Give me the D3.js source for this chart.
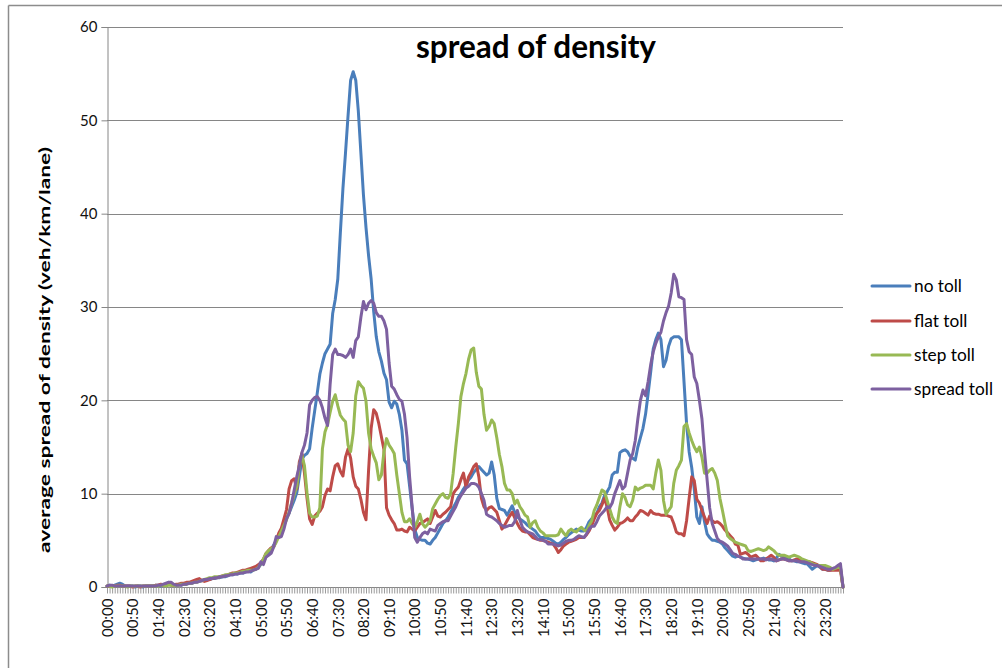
<!DOCTYPE html>
<html><head><meta charset="utf-8">
<script src="https://cdn.jsdelivr.net/npm/d3@7"></script>
<style>
html,body{margin:0;padding:0;background:#fff;}
svg{display:block;}
text{font-family:Lato,"Open Sans",sans-serif;}
</style></head>
<body>
<svg id="chart" width="1002" height="668"></svg>
<script>
// 5-minute categories 00:00 .. 23:55
const categories = d3.range(288).map(i => String(Math.floor(i*5/60)).padStart(2,"0") + ":" + String(i*5%60).padStart(2,"0"));
const tickLabels = ["00:00","00:50","01:40","02:30","03:20","04:10","05:00","05:50","06:40","07:30","08:20","09:10","10:00","10:50","11:40","12:30","13:20","14:10","15:00","15:50","16:40","17:30","18:20","19:10","20:00","20:50","21:40","22:30","23:20"];
const yTicks = [0,10,20,30,40,50,60];
const seriesNames = ["no toll","flat toll","step toll","spread toll"];
const seriesColors = ["#4a7ebb","#be4b48","#98b954","#7d60a0"];

const noToll = [
0.1,0.2,0.1,0.2,0.3,0.4,0.3,0.1,0.1,0.1,
0.1,0.0,0.1,0.1,0.0,0.1,0.1,0.1,0.1,0.2,
0.2,0.1,0.2,0.3,0.5,0.4,0.2,0.2,0.3,0.2,
0.3,0.3,0.4,0.4,0.5,0.6,0.6,0.7,0.7,0.8,
0.8,0.9,0.9,1.0,1.0,1.1,1.1,1.2,1.3,1.3,
1.4,1.4,1.5,1.5,1.6,1.7,1.6,1.8,1.9,2.1,
2.4,2.8,3.2,3.6,4.0,4.5,5.0,5.5,6.2,6.8,
7.4,7.9,8.6,9.3,10.1,11.8,13.7,14.1,14.3,14.8,
17.0,18.9,20.8,22.8,24.0,25.0,25.5,26.0,29.3,30.8,
33.0,38.0,42.7,46.5,50.5,54.3,55.2,54.3,51.0,46.5,
42.0,38.5,35.5,33.0,29.5,26.8,25.2,24.2,22.9,22.2,
19.8,19.2,19.9,19.6,18.5,16.8,13.6,13.2,10.8,8.4,
6.2,5.3,5.1,5.0,5.0,4.7,4.6,5.0,5.3,5.8,
6.3,6.8,7.1,7.5,8.0,8.5,9.0,9.6,10.0,10.5,
10.9,11.5,11.8,12.3,12.6,12.9,12.6,12.3,12.0,12.2,
13.4,12.0,9.5,8.4,8.3,8.2,7.7,8.2,8.7,8.0,
7.5,7.3,7.1,6.9,6.6,6.4,6.2,6.0,5.6,5.3,
5.3,5.3,5.2,5.1,4.9,4.7,4.6,4.8,5.1,5.3,
5.6,5.8,6.0,6.2,6.1,6.0,6.0,6.4,7.0,7.3,
7.6,7.9,8.6,9.0,9.8,10.2,10.7,12.0,12.3,12.3,
14.4,14.6,14.7,14.5,14.0,13.8,13.6,15.0,16.0,17.0,
18.5,20.7,23.0,25.5,26.5,27.2,26.5,23.6,24.3,25.8,
26.6,26.8,26.8,26.8,26.5,22.0,17.5,14.5,12.8,10.5,
7.5,6.8,8.6,7.0,5.7,5.3,5.0,5.0,4.9,4.8,
4.6,4.2,3.9,3.6,3.3,3.2,3.3,3.2,3.1,3.0,
3.0,2.9,2.8,2.9,3.0,3.0,3.1,3.0,2.9,2.9,
2.8,3.1,3.5,3.3,3.2,3.2,3.0,2.8,2.8,2.7,
2.7,2.6,2.5,2.5,2.2,1.9,2.1,2.3,2.1,1.9,
1.9,1.8,1.8,1.9,1.9,1.9,2.1,0.0];

const flatToll = [
0.1,0.1,0.1,0.1,0.2,0.2,0.1,0.1,0.1,0.1,
0.0,0.1,0.1,0.0,0.1,0.1,0.1,0.1,0.1,0.2,
0.2,0.3,0.2,0.3,0.3,0.2,0.2,0.3,0.3,0.4,
0.4,0.5,0.5,0.6,0.7,0.8,0.9,0.7,0.6,0.7,
0.8,0.9,1.0,1.0,1.1,1.2,1.2,1.3,1.4,1.5,
1.5,1.6,1.7,1.8,1.8,1.9,2.0,2.1,2.2,2.4,
2.6,3.0,3.6,3.9,4.2,4.3,5.0,5.8,6.3,7.3,
8.3,10.5,11.4,11.6,10.5,13.4,14.3,12.2,9.5,7.3,
6.7,7.6,7.9,8.1,8.6,9.8,10.5,10.3,11.8,13.0,
13.2,12.4,11.9,13.9,14.8,13.8,11.8,10.8,10.5,9.4,
8.0,7.2,12.5,17.0,19.0,18.6,17.5,16.1,14.7,8.5,
7.7,7.2,6.8,6.1,6.1,6.2,6.0,5.9,6.4,6.2,
6.0,6.4,6.8,6.9,7.1,7.3,6.8,7.5,8.2,7.6,
7.5,7.8,8.0,8.3,8.6,10.0,10.4,10.7,11.5,12.2,
10.7,11.8,12.3,12.9,13.2,11.8,9.5,8.6,8.2,8.5,
8.6,8.3,8.0,7.1,6.2,6.6,7.1,7.6,8.0,7.4,
6.8,6.3,6.0,5.9,5.9,5.6,5.3,5.2,5.1,5.0,
5.0,4.9,4.8,4.7,4.6,4.2,3.7,4.0,4.4,4.6,
4.8,4.9,5.0,5.1,5.3,5.3,5.3,5.6,6.0,6.6,
7.3,7.9,8.2,8.8,9.5,8.6,7.2,6.6,6.1,6.4,
6.8,6.9,7.1,7.4,7.1,7.1,7.5,7.8,8.2,8.1,
7.9,7.7,8.2,7.9,7.8,7.8,7.7,7.7,7.7,7.6,
7.5,6.8,5.9,5.7,5.7,5.5,7.1,9.5,11.8,11.4,
9.4,9.0,8.2,7.5,6.8,7.6,7.1,6.9,7.0,6.8,
6.5,6.1,5.8,5.5,5.2,4.6,4.5,3.5,3.6,3.7,
3.5,3.2,3.3,3.4,3.1,2.8,2.8,3.0,3.2,3.4,
3.2,2.8,2.9,3.0,3.0,2.9,2.8,2.8,2.9,3.0,
2.9,2.8,2.8,2.7,2.7,2.6,2.5,2.4,2.2,1.9,
1.9,1.8,1.8,1.8,1.8,1.8,1.8,0.0];

const stepToll = [
0.1,0.1,0.0,0.1,0.1,0.1,0.1,0.1,0.0,0.1,
0.1,0.1,0.1,0.1,0.1,0.1,0.1,0.1,0.1,0.1,
0.1,0.2,0.2,0.1,0.2,0.2,0.2,0.2,0.2,0.3,
0.3,0.3,0.4,0.4,0.5,0.5,0.6,0.7,0.8,0.9,
1.0,1.0,1.1,1.1,1.1,1.2,1.3,1.3,1.4,1.4,
1.5,1.5,1.6,1.7,1.7,1.8,1.8,1.8,1.9,2.1,
2.5,3.0,3.6,3.9,4.1,4.3,4.8,5.4,6.0,6.6,
7.2,8.0,9.0,9.9,10.8,13.0,14.1,13.0,10.1,7.9,
7.5,7.5,7.6,8.5,14.8,16.6,17.4,18.7,19.9,20.6,
19.4,18.4,18.0,17.7,15.2,14.5,16.5,20.5,22.0,21.6,
21.3,19.9,16.5,14.8,14.0,13.3,11.5,12.0,14.5,15.9,
15.2,14.8,14.3,12.0,10.0,8.0,7.0,7.0,7.3,6.8,
6.4,7.0,7.8,6.8,6.4,6.7,7.1,8.4,8.9,9.4,
9.8,10.0,9.6,9.5,10.0,12.2,15.0,17.5,20.4,21.8,
22.9,24.4,25.4,25.6,23.0,21.5,21.2,18.5,16.8,17.2,
17.9,17.5,16.0,14.2,12.9,11.1,10.4,10.4,10.0,8.9,
9.3,8.6,8.2,7.7,7.5,6.4,6.9,7.1,6.4,6.0,
5.8,5.5,5.5,5.5,5.5,5.5,5.6,6.2,5.8,5.5,
6.0,6.2,6.0,5.9,6.2,6.4,6.1,6.0,6.6,7.1,
8.2,8.8,9.6,10.4,10.2,9.3,8.4,7.5,7.0,6.8,
8.6,10.0,9.6,8.8,8.6,9.3,10.7,10.4,10.6,10.7,
10.9,10.9,10.9,10.5,12.2,13.6,12.5,9.3,7.8,8.2,
8.6,11.1,12.5,13.0,13.6,17.2,17.5,16.5,15.7,15.0,
14.5,15.0,13.9,12.2,12.2,12.5,12.7,12.2,11.4,9.5,
8.2,6.8,5.5,5.2,5.0,4.8,4.7,4.6,4.5,4.4,
3.9,3.8,3.9,4.0,4.1,4.0,3.9,4.0,4.3,4.1,
3.9,3.6,3.4,3.4,3.4,3.3,3.2,3.3,3.4,3.3,
3.2,3.0,2.9,2.8,2.7,2.5,2.4,2.3,2.3,2.3,
2.3,2.2,2.1,1.9,2.0,2.1,2.1,0.0];

const spreadToll = [
0.1,0.2,0.2,0.1,0.1,0.1,0.1,0.1,0.1,0.1,
0.1,0.1,0.1,0.1,0.1,0.1,0.1,0.1,0.1,0.1,
0.2,0.2,0.3,0.4,0.5,0.5,0.3,0.2,0.2,0.2,
0.3,0.3,0.4,0.4,0.5,0.5,0.6,0.7,0.8,0.8,
0.9,0.9,1.0,1.0,1.1,1.1,1.2,1.2,1.3,1.3,
1.4,1.4,1.5,1.5,1.6,1.6,1.7,1.8,1.9,2.0,
2.7,2.4,3.2,3.4,3.6,4.3,5.4,5.3,5.4,6.2,
7.3,7.9,9.0,10.4,11.8,13.0,14.4,15.2,16.5,19.5,
20.0,20.3,20.4,20.0,19.2,18.1,17.3,21.7,24.9,25.5,
24.9,24.9,24.8,24.6,24.9,25.5,24.6,26.4,26.8,28.9,
30.6,29.7,30.4,30.7,30.4,29.4,29.0,29.0,28.5,27.6,
24.0,21.5,21.2,20.6,20.1,19.9,18.5,16.0,11.8,8.5,
5.3,4.8,5.3,5.7,5.9,5.7,6.2,6.1,6.0,6.6,
6.8,7.0,7.1,7.1,7.6,8.1,8.6,9.3,9.8,10.2,
10.6,10.8,11.1,11.1,11.0,10.7,10.0,9.3,7.8,7.6,
7.5,7.3,7.1,6.8,6.6,6.4,6.5,6.6,6.6,7.0,
8.2,7.2,6.4,6.1,5.9,5.8,5.7,5.4,5.1,5.1,
5.0,4.9,4.6,4.6,4.6,4.5,4.4,4.5,4.7,4.9,
5.0,5.0,5.1,5.3,5.5,5.4,5.3,5.7,6.2,6.5,
6.5,7.0,7.6,7.9,8.2,8.6,8.5,9.0,10.0,10.7,
11.4,10.5,10.8,12.2,13.6,14.3,15.7,18.0,20.0,21.1,
20.5,22.0,23.8,25.2,26.1,26.8,27.3,28.5,29.4,30.1,
31.5,33.5,32.9,31.1,31.0,30.8,26.5,25.2,24.9,22.5,
21.8,20.0,18.0,14.5,11.5,8.5,6.8,6.0,5.2,4.9,
4.8,4.6,4.4,4.0,3.6,3.5,3.3,3.2,3.0,3.0,
3.0,3.0,3.0,3.0,3.0,3.0,3.0,2.9,3.0,3.0,
2.9,2.8,2.9,3.0,3.0,2.9,2.8,2.8,2.8,2.8,
2.7,2.7,2.7,2.6,2.5,2.4,2.3,2.3,2.2,2.1,
2.0,1.9,1.9,2.0,2.1,2.3,2.5,0.0];

const seriesValues = [noToll, flatToll, stepToll, spreadToll];

const svg = d3.select("#chart");
const gridColor = "#868686";

// chart-area frame (left and top edges visible)
svg.append("line").attr("x1",8.5).attr("y1",5.5).attr("x2",8.5).attr("y2",668).attr("stroke","#8c8c8c").attr("stroke-width",1.5);
svg.append("line").attr("x1",8.5).attr("y1",5.5).attr("x2",1002).attr("y2",5.5).attr("stroke","#8c8c8c").attr("stroke-width",1.5);

const x = d3.scalePoint().domain(categories).range([107, 843]);
const y = d3.scaleLinear().domain([0, 60]).range([587, 27]);

// gridlines
svg.append("g").selectAll("line").data(yTicks.filter(d => d > 0)).join("line")
  .attr("x1", 107).attr("x2", 843)
  .attr("y1", d => Math.round(y(d)) + 0.5).attr("y2", d => Math.round(y(d)) + 0.5)
  .attr("stroke", gridColor).attr("stroke-width", 1);

// y axis
const yAxis = svg.append("g").attr("transform","translate(107.5,0)")
  .call(d3.axisLeft(y).tickValues(yTicks).tickSize(6).tickPadding(4).tickFormat(d3.format("d")));
yAxis.select(".domain").attr("stroke", gridColor);
yAxis.selectAll(".tick line").attr("stroke", gridColor);
yAxis.selectAll(".tick text").attr("font-family","Lato, sans-serif").attr("font-size",15).attr("fill","#111");

// x axis
const xAxis = svg.append("g").attr("transform","translate(0,587.5)")
  .call(d3.axisBottom(x).tickSize(6).tickSizeOuter(0).tickPadding(4)
    .tickFormat(d => tickLabels.includes(d) ? d : ""));
xAxis.select(".domain").attr("stroke", gridColor).attr("d","M107,0H843");
xAxis.selectAll(".tick line").attr("stroke", "#9a9a9a").attr("stroke-width",1);
xAxis.selectAll(".tick text")
  .attr("font-family","Lato, sans-serif").attr("font-size",15).attr("fill","#111")
  .attr("transform","rotate(-90)").attr("text-anchor","end")
  .attr("x",-11).attr("y",0).attr("dy","0.35em");

// lines
const line = d3.line().x((d,i) => x(categories[i])).y(d => y(d));
svg.append("g").selectAll("path").data(seriesValues).join("path")
  .attr("d", d => line(d))
  .attr("fill","none")
  .attr("stroke",(d,i) => seriesColors[i])
  .attr("stroke-width",3)
  .attr("stroke-linejoin","round").attr("stroke-linecap","round");

function fitWidth(sel, target){
  const w = sel.node().getComputedTextLength();
  const fs = parseFloat(sel.attr("font-size"));
  const nf = fs * target / w;
  sel.attr("font-size", nf.toFixed(2));
  return nf;
}

// title
const title = svg.append("text").attr("x",536).attr("y",58).attr("text-anchor","middle")
  .attr("font-family","Lato, sans-serif").attr("font-weight","bold").attr("font-size",24).attr("fill","#000")
  .text("spread of density");
fitWidth(title, 240);

// y-axis label (glyphs elongated along the text direction, as in the reference)
svg.append("text").attr("transform","translate(50,350) rotate(-90)").attr("text-anchor","middle")
  .attr("font-family","Lato, sans-serif").attr("font-weight","bold").attr("font-size",15.5).attr("fill","#000")
  .attr("textLength",406).attr("lengthAdjust","spacingAndGlyphs")
  .text("average spread of density (veh/km/lane)");

// legend
const legendY = [286, 321, 355, 389];
const lg = svg.append("g").selectAll("g").data(seriesNames).join("g")
  .attr("transform",(d,i) => `translate(872,${legendY[i]})`);
lg.append("line").attr("x1",0).attr("x2",38).attr("y1",0).attr("y2",0)
  .attr("stroke",(d,i) => seriesColors[i]).attr("stroke-width",3).attr("stroke-linecap","round");
const lgText = lg.append("text").attr("x",42).attr("y",0).attr("dy","0.35em")
  .attr("font-family","Lato, sans-serif").attr("font-size",15).attr("fill","#000")
  .text(d => d);
const longest = lgText.filter(d => d === "spread toll");
const lfs = fitWidth(longest, 79);
lgText.attr("font-size", lfs.toFixed(2));
</script>
</body></html>
